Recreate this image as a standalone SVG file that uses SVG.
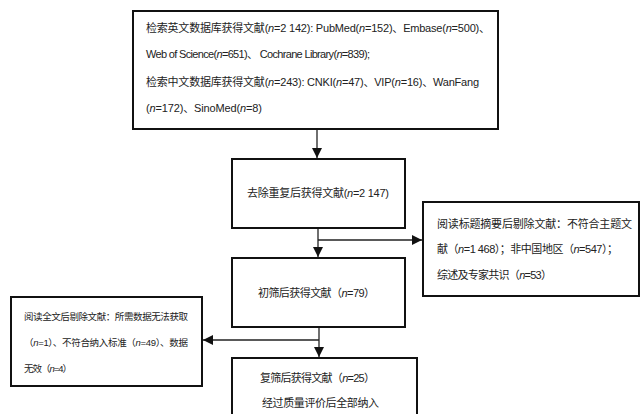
<svg xmlns="http://www.w3.org/2000/svg" width="641" height="414" viewBox="0 0 641 414">
<style>
.box{fill:#fff;stroke:#111;stroke-width:2}
.t{font-family:"Liberation Sans","Noto Sans CJK SC",sans-serif;font-size:11px;fill:#222}
.s{font-size:9.5px}
.i{font-style:italic}
.c{stroke:#222;stroke-width:1.3;fill:none}
</style>
<defs>
<marker id="ah" markerUnits="userSpaceOnUse" markerWidth="10" markerHeight="10" refX="10" refY="5" orient="auto">
<path d="M0,0 L10,5 L0,10 Z" fill="#111"/>
</marker>
</defs>
<rect width="641" height="414" fill="#fff"/>
<g id="connectors">
<line class="c" x1="317" y1="129" x2="317" y2="158" marker-end="url(#ah)"/>
<line class="c" x1="318" y1="228" x2="318" y2="257" marker-end="url(#ah)"/>
<line class="c" x1="318" y1="240" x2="422" y2="240" marker-end="url(#ah)"/>
<line class="c" x1="319" y1="327" x2="319" y2="357" marker-end="url(#ah)"/>
<line class="c" x1="319" y1="340" x2="203" y2="340" marker-end="url(#ah)"/>
</g>
<g id="search">
<rect class="box" x="133" y="11" width="365" height="118"/>
<text class="t" x="146" y="32" textLength="344" lengthAdjust="spacing">检索英文数据库获得文献(<tspan class="i">n</tspan>=2 142): PubMed(<tspan class="i">n</tspan>=152)、Embase(<tspan class="i">n</tspan>=500)、</text>
<text class="t" x="146" y="58" textLength="224" lengthAdjust="spacing">Web of Science(<tspan class="i">n</tspan>=651)、 Cochrane Library(<tspan class="i">n</tspan>=839);</text>
<text class="t" x="146" y="86" textLength="333" lengthAdjust="spacing">检索中文数据库获得文献(<tspan class="i">n</tspan>=243): CNKI(<tspan class="i">n</tspan>=47)、VIP(<tspan class="i">n</tspan>=16)、WanFang</text>
<text class="t" x="146" y="112" textLength="116" lengthAdjust="spacing">(<tspan class="i">n</tspan>=172)、SinoMed(<tspan class="i">n</tspan>=8)</text>
</g>
<g id="dedup">
<rect class="box" x="232" y="159" width="173" height="69"/>
<text class="t" x="247" y="197" textLength="142" lengthAdjust="spacing">去除重复后获得文献(<tspan class="i">n</tspan>=2 147)</text>
</g>
<g id="exclude1">
<rect class="box" x="423" y="202" width="216" height="94"/>
<text class="t" x="437" y="228" textLength="195" lengthAdjust="spacing">阅读标题摘要后剔除文献：不符合主题文</text>
<text class="t" x="437" y="253" textLength="181" lengthAdjust="spacing">献（<tspan class="i">n</tspan>=1 468）；非中国地区（<tspan class="i">n</tspan>=547）；</text>
<text class="t" x="437" y="279" textLength="115" lengthAdjust="spacing">综述及专家共识（<tspan class="i">n</tspan>=53）</text>
</g>
<g id="screen1">
<rect class="box" x="232" y="258" width="173" height="69"/>
<text class="t" x="258" y="297" textLength="117" lengthAdjust="spacing">初筛后获得文献（<tspan class="i">n</tspan>=79）</text>
</g>
<g id="exclude2">
<rect class="box" x="11" y="297" width="191" height="89"/>
<text class="t s" x="24" y="320" textLength="164" lengthAdjust="spacing">阅读全文后剔除文献：所需数据无法获取</text>
<text class="t s" x="24" y="346" textLength="164" lengthAdjust="spacing">（<tspan class="i">n</tspan>=1）、不符合纳入标准（<tspan class="i">n</tspan>=49）、数据</text>
<text class="t s" x="24" y="372" textLength="48" lengthAdjust="spacing">无效（<tspan class="i">n</tspan>=4）</text>
</g>
<g id="screen2">
<rect class="box" x="232" y="358" width="185" height="70"/>
<text class="t" x="260" y="382" textLength="115" lengthAdjust="spacing">复筛后获得文献（<tspan class="i">n</tspan>=25）</text>
<text class="t" x="262" y="407" textLength="117" lengthAdjust="spacing">经过质量评价后全部纳入</text>
</g>
</svg>
